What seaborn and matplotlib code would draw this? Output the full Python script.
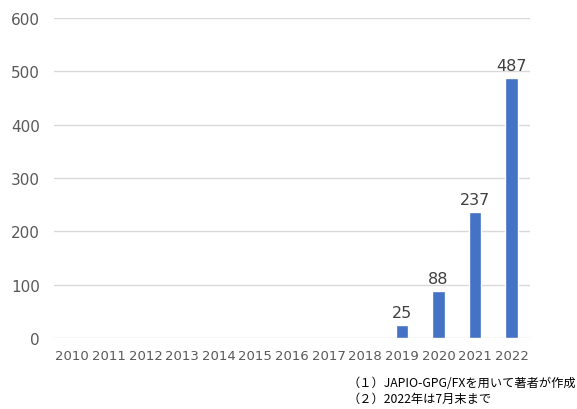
import matplotlib
matplotlib.use("Agg")
import matplotlib.pyplot as plt
import seaborn as sns
import pandas as pd

years = ["2010", "2011", "2012", "2013", "2014", "2015", "2016",
         "2017", "2018", "2019", "2020", "2021", "2022"]
counts = [0, 0, 0, 0, 0, 0, 0, 0, 0, 25, 88, 237, 487]
yticks = [0, 100, 200, 300, 400, 500, 600]
notes = ["（１）JAPIO-GPG/FXを用いて著者が作成", "（２）2022年は7月末まで"]

sns.set_theme(style="white")
plt.rcParams['font.family'] = ['DejaVu Sans', 'Noto Sans CJK JP']

df = pd.DataFrame({"year": years, "count": counts})
fig = plt.figure(figsize=(5.77, 4.10), dpi=100)
ax = fig.add_axes([0.0936, 0.1732, 0.825, 0.7805])
sns.barplot(data=df, x="year", y="count", color="#4472C4", width=0.34,
            saturation=1, ax=ax, zorder=3)
ax.set_ylim(0, 600)
ax.set_yticks(yticks)
ax.set_xlim(-0.5, len(years) - 0.5)
ax.grid(axis="y", color="#d9d9d9", linewidth=1, zorder=0)
for s in ax.spines.values():
    s.set_visible(False)
ax.set_xlabel("")
ax.set_ylabel("")
ax.tick_params(axis="y", labelsize=11, colors="#595959", length=0, pad=10)
ax.tick_params(axis="x", labelsize=9.5, colors="#595959", length=0, pad=8)
for i, v in enumerate(counts):
    if v > 0:
        ax.text(i, v + 9, str(v), ha="center", va="bottom", fontsize=11.5,
                color="#404040")
fig.text(347 / 577, 1 - 384 / 410, notes[0], fontsize=8.8, va="center",
         family=['Noto Sans CJK JP', 'DejaVu Sans'], color="#000000")
fig.text(347 / 577, 1 - 399 / 410, notes[1], fontsize=8.8, va="center",
         family=['Noto Sans CJK JP', 'DejaVu Sans'], color="#000000")
fig.savefig("out.png", dpi=100)
